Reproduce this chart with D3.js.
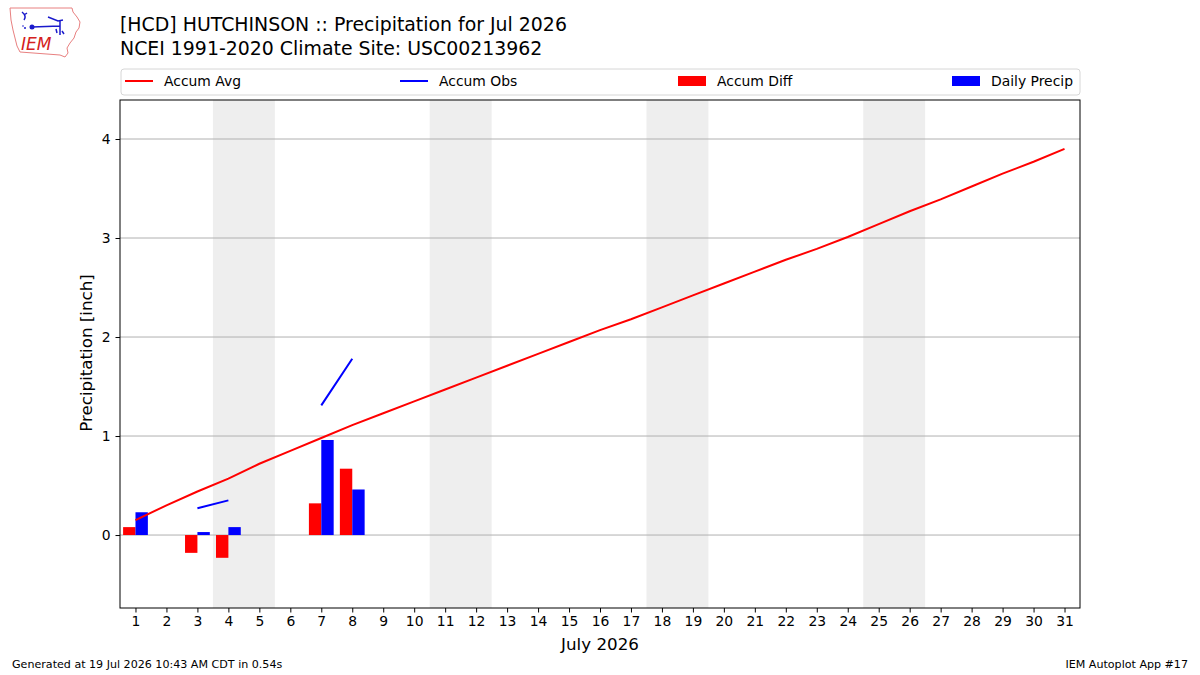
<!DOCTYPE html>
<html><head><meta charset="utf-8">
<script src="https://cdn.jsdelivr.net/npm/d3@7"></script>
<style>body{margin:0;background:#fff}svg{display:block}text{font-family:"DejaVu Sans",sans-serif}</style>
</head><body>
<svg id="c" width="1200" height="675"></svg>
<script>
const days = d3.range(1, 32);
const accumAvg = [0.15,0.30,0.44,0.57,0.72,0.85,0.98,1.11,1.23,1.35,1.47,1.59,1.71,1.83,1.95,2.07,2.18,2.30,2.42,2.54,2.66,2.78,2.89,3.01,3.14,3.27,3.39,3.52,3.65,3.77,3.90];
const obsDays = [1,2,3,4,5,6,7,8];
const accumObs = [0.23,null,0.27,0.35,null,null,1.31,1.78];
const accumDiff = [0.08,null,-0.18,-0.23,null,null,0.32,0.67];
const dailyPrecip = [0.23,null,0.03,0.08,null,null,0.96,0.46];
const weekends = [[3.5,5.5],[10.5,12.5],[17.5,19.5],[24.5,26.5]];
const yTicks = [0,1,2,3,4];
const legendItems = [
  {label:"Accum Avg", type:"line", color:"red"},
  {label:"Accum Obs", type:"line", color:"blue"},
  {label:"Accum Diff", type:"patch", color:"red"},
  {label:"Daily Precip", type:"patch", color:"blue"}
];

const svg = d3.select("#c");
const L=120, R=1080, T=100, B=608;
const x = d3.scaleLinear().domain([0.5,31.5]).range([L,R]);
const y = d3.scaleLinear().domain([-0.737,4.394]).range([B,T]);

// weekend shading
svg.append("g").selectAll("rect").data(weekends).join("rect")
  .attr("x",d=>x(d[0])).attr("width",d=>x(d[1])-x(d[0]))
  .attr("y",T).attr("height",B-T).attr("fill","#eeeeee");

// grid
svg.append("g").selectAll("line").data(yTicks).join("line")
  .attr("x1",L).attr("x2",R).attr("y1",d=>y(d)).attr("y2",d=>y(d))
  .attr("stroke","#b0b0b0").attr("stroke-width",1);

// bars
const bw = 0.4;
const idx = obsDays.map((d,i)=>i);
svg.append("g").selectAll("rect").data(idx.filter(i=>accumDiff[i]!==null)).join("rect")
  .attr("x",i=>x(obsDays[i]-bw)).attr("width",i=>x(obsDays[i])-x(obsDays[i]-bw))
  .attr("y",i=>y(Math.max(0,accumDiff[i]))).attr("height",i=>Math.abs(y(accumDiff[i])-y(0)))
  .attr("fill","red");
svg.append("g").selectAll("rect").data(idx.filter(i=>dailyPrecip[i]!==null)).join("rect")
  .attr("x",i=>x(obsDays[i])).attr("width",i=>x(obsDays[i]+bw)-x(obsDays[i]))
  .attr("y",i=>y(Math.max(0,dailyPrecip[i]))).attr("height",i=>Math.abs(y(dailyPrecip[i])-y(0)))
  .attr("fill","blue");

// lines
const line = d3.line().defined(d=>d[1]!==null).x(d=>x(d[0])).y(d=>y(d[1]));
svg.append("path").attr("d",line(days.map((d,i)=>[d,accumAvg[i]])))
  .attr("fill","none").attr("stroke","red").attr("stroke-width",2);
svg.append("path").attr("d",line(obsDays.map((d,i)=>[d,accumObs[i]])))
  .attr("fill","none").attr("stroke","blue").attr("stroke-width",2);

// axes
const xAxis = d3.axisBottom(x).tickValues(days).tickSize(4.5).tickPadding(4).tickFormat(d3.format("d"));
const gx = svg.append("g").attr("transform",`translate(0,${B})`).call(xAxis);
const yAxis = d3.axisLeft(y).tickValues(yTicks).tickSize(4.5).tickPadding(5).tickFormat(d3.format("d"));
const gy = svg.append("g").attr("transform",`translate(${L},0)`).call(yAxis);
[gx,gy].forEach(g=>{g.select(".domain").remove();g.selectAll("text").attr("font-size",13.9).attr("fill","#000").attr("font-family","DejaVu Sans");g.selectAll("line").attr("stroke","#000");});
svg.append("rect").attr("x",L).attr("y",T).attr("width",R-L).attr("height",B-T)
  .attr("fill","none").attr("stroke","#000").attr("stroke-width",1);

// labels
svg.append("text").attr("x",600).attr("y",650).attr("text-anchor","middle").attr("font-size",16.7).text("July 2026");
svg.append("text").attr("transform","translate(92,353) rotate(-90)").attr("text-anchor","middle").attr("font-size",16.7).text("Precipitation [inch]");

// title
svg.append("text").attr("x",120).attr("y",31).attr("font-size",18.9).text("[HCD] HUTCHINSON :: Precipitation for Jul 2026");
svg.append("text").attr("x",120).attr("y",55).attr("font-size",18.9).text("NCEI 1991-2020 Climate Site: USC00213962");

// legend
svg.append("rect").attr("x",121).attr("y",69).attr("width",959).attr("height",26).attr("rx",3)
  .attr("fill","#fff").attr("stroke","#d6d6d6");
const lx = [125,400,678,952];
const lg = svg.append("g").selectAll("g").data(legendItems).join("g")
  .attr("transform",(d,i)=>`translate(${lx[i]},81)`);
lg.filter(d=>d.type==="line").append("line").attr("x1",0).attr("x2",28).attr("stroke",d=>d.color).attr("stroke-width",2);
lg.filter(d=>d.type==="patch").append("rect").attr("x",0).attr("y",-5).attr("width",28).attr("height",10).attr("fill",d=>d.color);
lg.append("text").attr("x",39).attr("y",5).attr("font-size",13.9).text(d=>d.label);

// footer
svg.append("text").attr("x",12).attr("y",668).attr("font-size",11.1).text("Generated at 19 Jul 2026 10:43 AM CDT in 0.54s");
svg.append("text").attr("x",1188).attr("y",668).attr("font-size",11.1).attr("text-anchor","end").text("IEM Autoplot App #17");

// logo
const logo = svg.append("g");
logo.append("path").attr("d","M10,8 L72,8 L73,12 L77,17 L80,22 L79,28 L76,32 L74,38 L70,43 L67,48 L68,53 L65,57 L60,55 L20,52 L17,46 L15,38 L13,30 L11,20 Z")
  .attr("fill","#fff").attr("stroke","#e88080").attr("stroke-width",1);
logo.append("path").attr("d","M32,27 L60,26 M60,20 L60,35 M48,17 L58,21 L63,20 M22,12 Q27,16 24,20 M24,15 L27,13 M56,29 L57,33 M62,31 L64,34")
  .attr("fill","none").attr("stroke","#1a1acc").attr("stroke-width",1.5);
logo.append("circle").attr("cx",32).attr("cy",27).attr("r",2.5).attr("fill","#1a1acc");
logo.append("circle").attr("cx",25).attr("cy",28).attr("r",1).attr("fill","#1a1acc");
logo.append("circle").attr("cx",23).attr("cy",26).attr("r",0.8).attr("fill","#1a1acc");
logo.append("text").attr("x",21).attr("y",50).attr("font-family","Liberation Serif").attr("font-style","italic")
  .attr("font-size",17).attr("fill","#d42020").text("IEM");
</script>
</body></html>
